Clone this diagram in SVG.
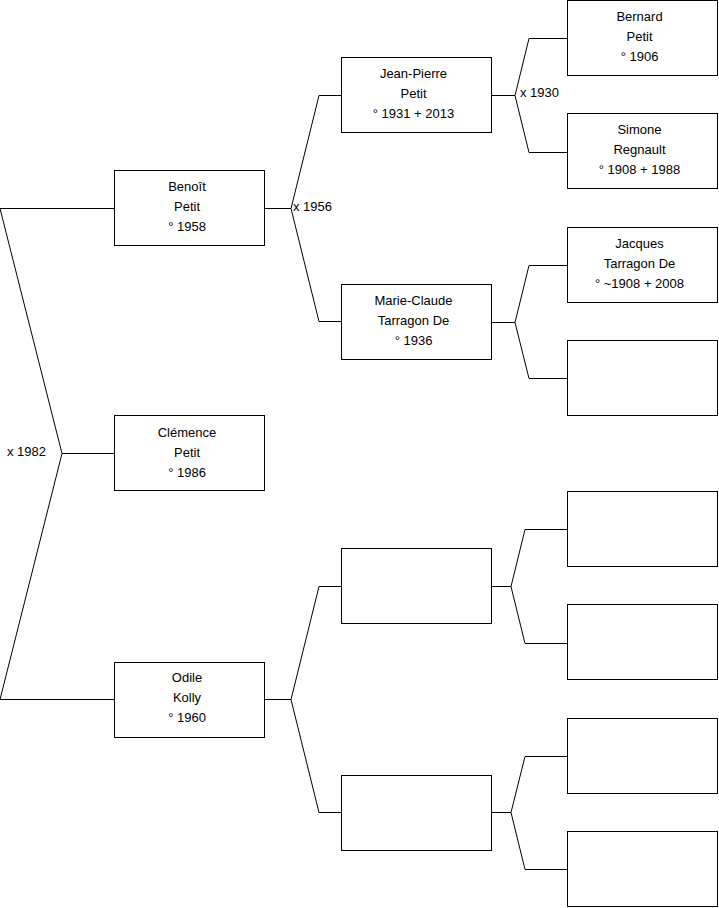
<svg xmlns="http://www.w3.org/2000/svg" width="719" height="908" viewBox="0 0 719 908">
<style>
rect.b{fill:#fff;stroke:#000;stroke-width:1}
.c path{fill:none;stroke:#000;stroke-width:1}
text{font-family:"Liberation Sans",Arial,sans-serif;font-size:13px;fill:#000}
.n text{text-anchor:middle}
</style>
<rect width="719" height="908" fill="#fff"/>
<g class="c" id="connectors">
<path d="M0,208.5H114.5M0,208.5L62,453.5L0,699.5H114.5M62,453.5H114.5"/>
<path d="M264.5,208.5H291M319,95.5L291,208.5L319,321.5M319,95.5H341.5M319,321.5H341.5"/>
<path d="M264.5,699.5H291M319,586.5L291,699.5L319,812.5M319,586.5H341.5M319,812.5H341.5"/>
<path d="M491.5,95.5H515M529,38.5L515,95.5L529,152.5M529,38.5H567.5M529,152.5H567.5"/>
<path d="M491.5,322.5H515M529,265.5L515,322.5L529,378.5M529,265.5H567.5M529,378.5H567.5"/>
<path d="M491.5,586.5H511M525,529.5L511,586.5L525,643.5M525,529.5H567.5M525,643.5H567.5"/>
<path d="M491.5,812.5H511M525,756.5L511,812.5L525,869.5M525,756.5H567.5M525,869.5H567.5"/>
<text x="7" y="456">x 1982</text>
<text x="293" y="211">x 1956</text>
<text x="520" y="97">x 1930</text>
</g>
<g class="n" id="benoit"><rect class="b" x="114.5" y="170.5" width="150" height="75"/><text x="187" y="191">Benoît</text><text x="187" y="211">Petit</text><text x="187" y="231">° 1958</text></g>
<g class="n" id="clemence"><rect class="b" x="114.5" y="415.5" width="150" height="75"/><text x="187" y="437">Clémence</text><text x="187" y="457">Petit</text><text x="187" y="477">° 1986</text></g>
<g class="n" id="odile"><rect class="b" x="114.5" y="662.5" width="150" height="75"/><text x="187" y="682">Odile</text><text x="187" y="702">Kolly</text><text x="187" y="722">° 1960</text></g>
<g class="n" id="jeanpierre"><rect class="b" x="341.5" y="57.5" width="150" height="75"/><text x="413.5" y="78">Jean-Pierre</text><text x="413.5" y="98">Petit</text><text x="413.5" y="118">° 1931 + 2013</text></g>
<g class="n" id="marieclaude"><rect class="b" x="341.5" y="284.5" width="150" height="75"/><text x="413.5" y="305">Marie-Claude</text><text x="413.5" y="325">Tarragon De</text><text x="413.5" y="345">° 1936</text></g>
<g class="n" id="unknown1"><rect class="b" x="341.5" y="548.5" width="150" height="75"/></g>
<g class="n" id="unknown2"><rect class="b" x="341.5" y="775.5" width="150" height="75"/></g>
<g class="n" id="bernard"><rect class="b" x="567.5" y="0.5" width="150" height="75"/><text x="639.5" y="21">Bernard</text><text x="639.5" y="41">Petit</text><text x="639.5" y="61">° 1906</text></g>
<g class="n" id="simone"><rect class="b" x="567.5" y="113.5" width="150" height="75"/><text x="639.5" y="134">Simone</text><text x="639.5" y="154">Regnault</text><text x="639.5" y="174">° 1908 + 1988</text></g>
<g class="n" id="jacques"><rect class="b" x="567.5" y="227.5" width="150" height="75"/><text x="639.5" y="248">Jacques</text><text x="639.5" y="268">Tarragon De</text><text x="639.5" y="288">° ~1908 + 2008</text></g>
<g class="n" id="empty1"><rect class="b" x="567.5" y="340.5" width="150" height="75"/></g>
<g class="n" id="empty2"><rect class="b" x="567.5" y="491.5" width="150" height="75"/></g>
<g class="n" id="empty3"><rect class="b" x="567.5" y="604.5" width="150" height="75"/></g>
<g class="n" id="empty4"><rect class="b" x="567.5" y="718.5" width="150" height="75"/></g>
<g class="n" id="empty5"><rect class="b" x="567.5" y="831.5" width="150" height="75"/></g>
</svg>
